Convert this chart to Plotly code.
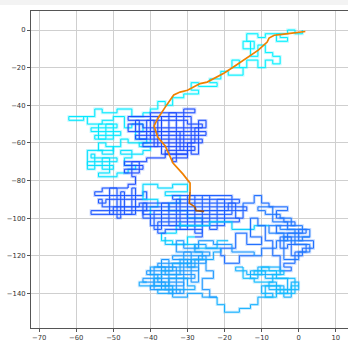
import plotly.graph_objects as go

# ---------------- data ----------------
# lattice random-walk path, split into phases (vertices of an axis-aligned polyline)
walk_a = [(1,0),(1,-2),(-1,-2),(-1,0),(-3,0),(-3,-2),(-6,-2),(-6,-6),(-3,-6),(-3,-4),(-5,-4),(-5,-2),(-9,-2),(-9,-4),(-11,-4),(-11,-2),(-14,-2),(-14,-6),(-12,-6),(-12,-10),(-15,-10),(-15,-6),(-13,-6),(-13,-14),(-11,-14),(-11,-8),(-9,-8),(-9,-12),(-7,-12),(-7,-14),(-5,-14),(-5,-18),(-7,-18),(-7,-16),(-9,-16),(-9,-20),(-11,-20),(-11,-16),(-14,-16),(-14,-20),(-16,-20),(-16,-16),(-18,-16),(-18,-20),(-15,-20),(-15,-24),(-19,-24),(-19,-22),(-21,-22),(-21,-26),(-24,-26),(-24,-28),(-22,-28),(-22,-30),(-27,-30),(-27,-28),(-29,-28),(-29,-32),(-27,-32),(-27,-34),(-31,-34),(-31,-36),(-34,-36),(-34,-40),(-36,-40),(-36,-38),(-38,-38),(-38,-42),(-40,-42),(-40,-44)]
walk_b = [(-40,-44),(-42,-44),(-42,-46),(-45,-46),(-45,-42),(-49,-42),(-49,-44),(-53,-44),(-53,-42),(-55,-42),(-55,-46),(-62,-46),(-62,-48),(-58,-48),(-58,-46),(-57,-46),(-57,-50),(-49,-50),(-49,-52),(-56,-52),(-56,-54),(-48,-54),(-48,-56),(-55,-56),(-55,-58),(-50,-58),(-50,-50),(-52,-50),(-52,-58),(-54,-58),(-54,-50),(-53,-50),(-53,-48),(-50,-48),(-50,-46),(-47,-46),(-47,-52),(-45,-52),(-45,-50),(-42,-50),(-42,-54),(-44,-54),(-44,-58),(-41,-58),(-41,-60),(-46,-60),(-46,-58),(-48,-58),(-48,-62),(-52,-62),(-52,-60),(-54,-60),(-54,-64),(-50,-64),(-50,-62)]
walk_c = [(-50,-62),(-50,-66),(-53,-66),(-53,-64),(-57,-64),(-57,-74),(-55,-74),(-55,-66),(-56,-66),(-56,-68),(-49,-68),(-49,-70),(-57,-70),(-57,-72),(-50,-72),(-50,-74),(-53,-74),(-53,-68),(-51,-68),(-51,-76),(-54,-76),(-54,-78),(-49,-78),(-49,-76),(-46,-76),(-46,-74),(-44,-74),(-44,-72),(-47,-72),(-47,-68),(-45,-68),(-45,-64),(-48,-64),(-48,-66),(-42,-66),(-42,-64),(-40,-64),(-40,-62),(-43,-62),(-43,-60),(-40,-60),(-40,-58)]
walk_d = [(-40,-58),(-40,-44),(-28,-44),(-28,-42),(-31,-42),(-31,-46),(-46,-46),(-46,-48),(-30,-48),(-30,-50),(-26,-50),(-26,-52),(-42,-52),(-42,-50),(-46,-50),(-46,-54),(-25,-54),(-25,-56),(-44,-56),(-44,-58),(-26,-58),(-26,-60),(-42,-60),(-42,-62),(-28,-62),(-28,-64),(-36,-64),(-36,-66),(-30,-66),(-30,-68),(-34,-68),(-34,-70),(-33,-70),(-33,-44),(-35,-44),(-35,-66),(-37,-66),(-37,-46),(-38,-46),(-38,-62),(-39,-62),(-39,-48),(-41,-48),(-41,-58),(-43,-58),(-43,-48),(-44,-48),(-44,-54),(-32,-54),(-32,-64),(-31,-64),(-31,-46),(-29,-46),(-29,-66),(-27,-66),(-27,-48),(-25,-48),(-25,-52),(-28,-52),(-28,-60),(-30,-60),(-30,-64)]
walk_e = [(-30,-64),(-30,-66),(-36,-66),(-36,-68),(-41,-68),(-41,-70),(-47,-70),(-47,-72),(-42,-72),(-42,-74),(-47,-74),(-47,-76),(-43,-76),(-43,-70),(-45,-70),(-45,-78),(-44,-78),(-44,-82),(-46,-82),(-46,-84)]
walk_f = [(-46,-84),(-53,-84),(-53,-86),(-55,-86),(-55,-88),(-42,-88),(-42,-86),(-41,-86),(-41,-90),(-52,-90),(-52,-92),(-54,-92),(-54,-90),(-53,-90),(-53,-94),(-43,-94),(-43,-92),(-41,-92),(-41,-96),(-56,-96),(-56,-98),(-44,-98),(-44,-84),(-45,-84),(-45,-98),(-47,-98),(-47,-86),(-48,-86),(-48,-100),(-49,-100),(-49,-84),(-51,-84),(-51,-98),(-50,-98),(-50,-94),(-42,-94),(-42,-98),(-40,-98)]
walk_g1 = [(-40,-98),(-40,-94),(-38,-94),(-38,-90),(-42,-90),(-42,-82),(-38,-82),(-38,-84),(-34,-84),(-34,-82),(-30,-82),(-30,-86),(-36,-86),(-36,-88),(-32,-88),(-32,-92),(-35,-92),(-35,-96),(-30,-96),(-30,-100),(-26,-100),(-26,-104),(-33,-104),(-33,-108),(-37,-108),(-37,-112),(-34,-112),(-34,-114),(-30,-114),(-30,-110),(-28,-110)]
walk_g2 = [(-28,-110),(-26,-110),(-26,-106),(-36,-106),(-36,-108),(-38,-108),(-38,-102),(-16,-102),(-16,-100),(-42,-100),(-42,-96),(-14,-96),(-14,-94),(-42,-94),(-42,-92),(-16,-92),(-16,-90),(-34,-90),(-34,-88),(-18,-88),(-18,-98),(-40,-98),(-40,-104),(-20,-104),(-20,-90),(-22,-90),(-22,-106),(-24,-106),(-24,-88),(-26,-88),(-26,-108),(-28,-108),(-28,-88),(-30,-88),(-30,-106),(-32,-106),(-32,-90),(-33,-90),(-33,-104),(-35,-104),(-35,-92),(-37,-92),(-37,-106),(-39,-106),(-39,-96),(-19,-96),(-19,-92),(-17,-92),(-17,-100),(-15,-100),(-15,-96)]
walk_g3 = [(-32,-102),(-32,-104),(-24,-104),(-24,-102),(-18,-102),(-18,-106),(-12,-106),(-12,-104),(-8,-104)]
walk_g4 = [(-36,-110),(-36,-114),(-28,-114),(-28,-116),(-22,-116),(-22,-112),(-19,-112)]
walk_h = [(-15,-96),(-15,-92),(-12,-92),(-12,-88),(-10,-88),(-10,-92),(-8,-92),(-8,-94),(-3,-94),(-3,-96),(-6,-96),(-6,-100),(-4,-100),(-4,-102),(-1,-102),(-1,-104),(-6,-104),(-6,-108),(2,-108),(2,-106),(0,-106),(0,-112),(4,-112),(4,-116),(1,-116),(1,-120),(-2,-120),(-2,-110),(-5,-110),(-5,-116),(-3,-116),(-3,-114),(2,-114),(2,-118),(-1,-118),(-1,-124),(-4,-124),(-4,-126),(-2,-126),(-2,-128),(-5,-128),(-5,-120),(-7,-120),(-7,-112),(-9,-112),(-9,-104),(-11,-104),(-11,-100),(-13,-100),(-13,-110),(-10,-110),(-10,-114),(-14,-114),(-14,-108),(-17,-108),(-17,-116),(-21,-116),(-21,-120),(-20,-120),(-20,-124),(-16,-124),(-16,-120),(-12,-120)]
walk_h2 = [(-12,-120),(-10,-120),(-10,-116),(-6,-116),(-6,-112),(-3,-112),(-3,-108),(1,-108),(1,-104),(-2,-104),(-2,-100),(-5,-100),(-5,-98),(-9,-98),(-9,-96),(-11,-96),(-11,-94),(-7,-94),(-7,-102),(-3,-102),(-3,-106),(3,-106),(3,-110),(-4,-110),(-4,-122),(0,-122),(0,-118),(3,-118),(3,-114),(-1,-114),(-1,-108)]
walk_h3 = [(-1,-108),(-1,-106),(-5,-106),(-5,-104),(-8,-104),(-8,-108),(-4,-108),(-4,-112),(1,-112),(1,-110),(3,-110)]
walk_i = [(-12,-120),(-12,-118),(-18,-118),(-18,-114),(-23,-114),(-23,-112),(-27,-112),(-27,-116),(-31,-116),(-31,-112),(-33,-112),(-33,-118),(-24,-118),(-24,-120),(-34,-120),(-34,-122),(-25,-122),(-25,-124),(-38,-124),(-38,-126),(-27,-126),(-27,-128),(-41,-128),(-41,-130),(-28,-130),(-28,-132),(-42,-132),(-42,-134),(-31,-134),(-31,-136),(-40,-136),(-40,-138),(-32,-138),(-32,-140),(-35,-140),(-35,-122),(-37,-122),(-37,-138),(-39,-138),(-39,-126),(-33,-126),(-33,-140),(-31,-140),(-31,-118),(-29,-118),(-29,-134),(-27,-134),(-27,-120),(-25,-120),(-25,-128),(-23,-128),(-23,-132),(-26,-132),(-26,-138),(-24,-138),(-24,-142),(-22,-142)]
walk_i2 = [(-22,-142),(-26,-142),(-26,-140),(-30,-140),(-30,-142),(-34,-142),(-34,-138),(-36,-138),(-36,-134),(-38,-134),(-38,-130),(-40,-130),(-40,-126),(-36,-126),(-36,-130),(-32,-130),(-32,-122),(-30,-122),(-30,-126),(-28,-126),(-28,-122),(-26,-122),(-26,-118),(-28,-118),(-28,-114),(-25,-114),(-25,-116),(-21,-116)]
walk_i3 = [(-21,-116),(-21,-118),(-23,-118),(-23,-122),(-29,-122),(-29,-124),(-34,-124),(-34,-128),(-37,-128),(-37,-132),(-39,-132),(-39,-136),(-35,-136),(-35,-132),(-30,-132),(-30,-136),(-28,-136),(-28,-138),(-38,-138),(-38,-140),(-34,-140),(-34,-136),(-43,-136),(-43,-134),(-41,-134)]
walk_j = [(-22,-142),(-22,-146),(-20,-146),(-20,-150),(-16,-150),(-16,-148),(-13,-148),(-13,-146),(-11,-146),(-11,-142),(-7,-142),(-7,-140),(-10,-140),(-10,-136),(-4,-136),(-4,-142),(-2,-142),(-2,-134),(0,-134),(0,-138),(-8,-138),(-8,-134),(-6,-134),(-6,-140),(-3,-140),(-3,-132),(-9,-132),(-9,-128),(-13,-128),(-13,-132),(-11,-132),(-11,-126),(-5,-126),(-5,-130),(-14,-130),(-14,-128),(-17,-128),(-17,-126),(-15,-126)]
walk_j2 = [(-15,-126),(-15,-132),(-12,-132),(-12,-134),(-7,-134),(-7,-130),(-4,-130),(-4,-128),(-8,-128),(-8,-126),(-10,-126),(-10,-130),(-12,-130),(-12,-128),(-6,-128),(-6,-132),(-1,-132),(-1,-140),(-5,-140),(-5,-136),(-9,-136),(-9,-142),(-6,-142),(-6,-138),(-2,-138),(-2,-136),(0,-136)]

# running-mean curve (orange)
mean_x = [1.8, 0.9, -1.8, -4.5, -6.6, -8.0, -8.5, -10.9, -12.8, -13.9, -17.7, -20.2, -24.7, -26.6, -30.0, -32.0, -33.7, -36.0, -38.0, -39.0, -38.7, -38.0, -36.0, -35.5, -33.9, -31.2, -29.3, -29.3, -29.5, -28.0, -27.7, -25.5]
mean_y = [-0.8, -1.1, -1.7, -2.3, -2.8, -4.3, -6.4, -10.7, -13.3, -15.0, -19.8, -23.0, -27.7, -28.5, -32.0, -33.0, -34.5, -41.0, -47.0, -51.0, -52.5, -57.0, -61.6, -64.0, -70.7, -76.6, -81.4, -85.7, -92.0, -94.0, -96.0, -96.4]

x_ticks = [-70, -60, -50, -40, -30, -20, -10, 0, 10]
y_ticks = [0, -20, -40, -60, -80, -100, -120, -140]

# ---------------- styles ----------------
phases = [
    (walk_a, '#00F0FF'),
    (walk_b, '#00E8FF'),
    (walk_c, '#00E0FF'),
    (walk_d, '#1A4BFF'),
    (walk_e, '#1A4BFF'),
    (walk_f, '#1A55FF'),
    (walk_g1, '#00D8FF'),
    (walk_g2, '#1A5CFF'),
    (walk_g3, '#00CCFF'),
    (walk_g4, '#10C0FF'),
    (walk_h, '#1E6EFF'),
    (walk_h2, '#1E78FF'),
    (walk_h3, '#1E80FF'),
    (walk_i, '#1E98FF'),
    (walk_i2, '#1AA4FF'),
    (walk_i3, '#18A8FF'),
    (walk_j, '#14B0FF'),
    (walk_j2, '#10BCFF'),
]

fig = go.Figure()
for pts, col in phases:
    xs = [p[0] for p in pts]
    ys = [p[1] for p in pts]
    fig.add_trace(go.Scatter(x=xs, y=ys, mode='lines', line=dict(color=col, width=2.8),
                             opacity=0.25, hoverinfo='skip', showlegend=False))
    fig.add_trace(go.Scatter(x=xs, y=ys, mode='lines', line=dict(color=col, width=1.0),
                             hoverinfo='skip', showlegend=False))

segs = [(0, 28, '#F08000'), (27, 30, '#C86400'), (29, 32, '#94501C')]
for a, b, col in segs:
    fig.add_trace(go.Scatter(x=mean_x[a:b], y=mean_y[a:b], mode='lines',
                             line=dict(color=col, width=1.7), hoverinfo='skip', showlegend=False))

axis_common = dict(showgrid=True, gridcolor='#cfcfcf', gridwidth=1, zeroline=False,
                   showline=True, linecolor='#555555', linewidth=1.2, mirror=True,
                   ticks='outside', ticklen=3, tickwidth=1, tickcolor='#555555',
                   tickfont=dict(family='DejaVu Sans', size=6.8, color='#333333'))

fig.update_layout(
    width=348, height=344,
    margin=dict(l=31, r=0, t=11, b=16),
    paper_bgcolor='white', plot_bgcolor='white',
    xaxis=dict(range=[-72.2, 13.3], tickvals=x_ticks, **axis_common),
    yaxis=dict(range=[-158.4, 10.1], tickvals=y_ticks, **axis_common),
    shapes=[dict(type='rect', xref='paper', yref='paper', x0=-0.2, x1=1.1,
                 y0=1.019, y1=1.04, fillcolor='#f3f3f3', line=dict(width=0), layer='below')],
)

fig.write_html("out.html")
